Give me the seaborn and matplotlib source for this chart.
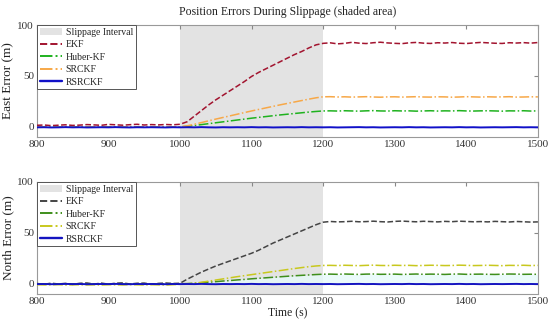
import numpy as np
import pandas as pd
import matplotlib
matplotlib.use("Agg")
import matplotlib.pyplot as plt
import seaborn as sns
from matplotlib.patches import Patch
from matplotlib.lines import Line2D

time = np.arange(800, 1501, 10)
slip_start, slip_end = 1000, 1200

east_ekf = [1.5, 1.8, 1.2, 1.6, 2.0, 1.4, 1.7, 2.2, 1.9, 1.5, 2.4, 2.0, 1.6, 2.1, 2.5, 1.8, 2.2, 1.9, 2.3, 2.0,
            2.5, 5.0, 10.5, 16.0, 21.5, 26.5, 31.0, 35.5, 40.0, 44.5, 49.5, 53.5, 57.0, 60.5, 64.0, 67.5, 71.0, 74.0, 77.5, 80.5, 82.0,
            82.5, 81.5, 82.0, 83.0, 82.2, 81.8, 82.6, 83.1, 82.4, 82.0, 81.7, 82.5, 82.9, 82.2, 81.9,
            82.6, 82.3, 82.8, 82.1, 81.8, 82.4, 82.9, 82.5, 82.1, 81.9, 82.6, 82.3, 82.7, 82.2, 82.8]
east_huber = [-0.2, -0.3, -0.1, -0.2, -0.3, -0.2, -0.1, -0.2, -0.3, -0.2, -0.1, -0.2, -0.3, -0.2, -0.1, -0.2, -0.2, -0.3, -0.1, -0.2,
              0.0, 0.5, 1.3, 2.2, 3.1, 4.0, 4.9, 5.8, 6.7, 7.6, 8.5, 9.3, 10.1, 10.9, 11.7, 12.4, 13.1, 13.8, 14.5, 15.1, 15.6,
              15.7, 15.5, 15.8, 15.6, 15.4, 15.7, 15.9, 15.6, 15.5, 15.8, 15.6, 15.7, 15.4, 15.6, 15.8,
              15.5, 15.7, 15.6, 15.9, 15.6, 15.5, 15.7, 15.8, 15.6, 15.4, 15.7, 15.6, 15.8, 15.5, 15.7]
east_srckf = [-0.3, -0.2, -0.4, -0.3, -0.2, -0.3, -0.4, -0.3, -0.2, -0.3, -0.3, -0.4, -0.2, -0.3, -0.3, -0.2, -0.4, -0.3, -0.3, -0.2,
              0.0, 1.0, 2.5, 4.2, 5.9, 7.6, 9.2, 10.8, 12.4, 14.0, 15.6, 17.1, 18.6, 20.1, 21.6, 23.0, 24.4, 25.8, 27.2, 28.5, 29.5,
              29.6, 29.3, 29.5, 29.2, 29.4, 29.6, 29.3, 29.1, 29.4, 29.5, 29.2, 29.4, 29.6, 29.3, 29.2,
              29.5, 29.4, 29.1, 29.3, 29.6, 29.4, 29.2, 29.5, 29.3, 29.4, 29.6, 29.2, 29.3, 29.5, 29.4]
east_rsrckf = [-0.5, -0.4, -0.6, -0.5, -0.3, -0.5, -0.4, -0.6, -0.5, -0.4, -0.5, -0.3, -0.5, -0.6, -0.4, -0.5, -0.4, -0.5, -0.6, -0.4,
               -0.5, -0.4, -0.5, -0.3, -0.5, -0.6, -0.4, -0.5, -0.4, -0.5, -0.3, -0.5, -0.4, -0.6, -0.5, -0.4, -0.5, -0.3, -0.5, -0.4, -0.5,
               -0.4, -0.6, -0.5, -0.4, -0.3, -0.5, -0.4, -0.6, -0.5, -0.4, -0.5, -0.3, -0.5, -0.4, -0.6,
               -0.5, -0.4, -0.5, -0.3, -0.5, -0.4, -0.6, -0.5, -0.4, -0.5, -0.4, -0.3, -0.5, -0.4, -0.5]

north_ekf = [0.3, -0.5, 0.6, -0.2, 0.4, -0.6, 0.5, 0.8, -0.3, 0.7, -0.4, 0.6, 0.9, -0.2, 0.5, 0.7, -0.5, 0.4, 0.8, 0.3,
             0.5, 4.5, 8.0, 11.5, 14.5, 17.5, 20.0, 22.5, 25.0, 27.5, 30.0, 33.0, 36.5, 40.0, 43.0, 46.0, 49.0, 52.0, 55.0, 58.0, 60.5,
             61.2, 60.8, 61.0, 61.4, 60.9, 61.1, 61.5, 61.0, 60.7, 61.3, 61.6, 61.2, 60.9, 61.4, 61.1,
             60.8, 61.3, 61.0, 61.5, 61.2, 60.9, 61.1, 60.8, 61.3, 61.0, 60.7, 61.2, 60.9, 60.6, 60.8]
north_huber = [-0.3, -0.2, -0.4, -0.3, -0.2, -0.3, -0.4, -0.2, -0.3, -0.3, -0.2, -0.4, -0.3, -0.2, -0.3, -0.4, -0.3, -0.2, -0.3, -0.2,
               0.0, 0.2, 0.6, 1.1, 1.6, 2.1, 2.7, 3.2, 3.8, 4.3, 4.9, 5.4, 5.9, 6.4, 6.9, 7.4, 7.9, 8.3, 8.7, 9.1, 9.4,
               9.5, 9.3, 9.6, 9.4, 9.2, 9.5, 9.6, 9.3, 9.4, 9.5, 9.2, 9.4, 9.6, 9.3, 9.5,
               9.4, 9.2, 9.5, 9.6, 9.3, 9.4, 9.5, 9.3, 9.2, 9.4, 9.6, 9.5, 9.3, 9.4, 9.3]
north_srckf = [-0.9, -1.1, -1.0, -0.8, -1.2, -1.0, -0.9, -1.1, -1.0, -1.2, -0.9, -1.0, -1.1, -0.8, -1.0, -1.1, -0.9, -1.0, -1.2, -0.9,
               -0.5, -0.2, 0.5, 1.5, 2.6, 3.7, 4.8, 5.9, 7.0, 8.0, 9.0, 10.0, 11.0, 12.0, 13.0, 14.0, 15.0, 15.9, 16.8, 17.5, 18.0,
               18.1, 17.9, 18.2, 18.0, 17.8, 18.1, 18.3, 18.0, 17.9, 18.2, 18.0, 18.1, 17.8, 18.0, 18.2,
               18.1, 17.9, 18.0, 18.3, 18.1, 17.9, 18.0, 18.2, 18.0, 17.8, 18.1, 18.0, 18.2, 17.9, 18.1]
north_rsrckf = [-0.3, -0.2, -0.4, -0.3, -0.1, -0.3, -0.2, -0.4, -0.3, -0.2, -0.3, -0.1, -0.3, -0.4, -0.2, -0.3, -0.2, -0.3, -0.4, -0.2,
                -0.3, -0.2, -0.3, -0.1, -0.3, -0.4, -0.2, -0.3, -0.2, -0.3, -0.1, -0.3, -0.2, -0.4, -0.3, -0.2, -0.3, -0.1, -0.3, -0.2, -0.3,
                -0.2, -0.4, -0.3, -0.2, -0.1, -0.3, -0.2, -0.4, -0.3, -0.2, -0.3, -0.1, -0.3, -0.2, -0.4,
                -0.3, -0.2, -0.3, -0.1, -0.3, -0.2, -0.4, -0.3, -0.2, -0.3, -0.2, -0.1, -0.3, -0.2, -0.3]

methods = ["EKF", "Huber-KF", "SRCKF", "RSRCKF"]
east = [east_ekf, east_huber, east_srckf, east_rsrckf]
north = [north_ekf, north_huber, north_srckf, north_rsrckf]

styles = {"EKF": "--", "Huber-KF": "-.", "SRCKF": "-.", "RSRCKF": "-"}
widths = {"EKF": 1.1, "Huber-KF": 1.1, "SRCKF": 1.1, "RSRCKF": 1.4}
east_colors = {"EKF": "#a2142f", "Huber-KF": "#1fb21f", "SRCKF": "#f7a848", "RSRCKF": "#1010c8"}
north_colors = {"EKF": "#444444", "Huber-KF": "#3f8f1c", "SRCKF": "#c8c81e", "RSRCKF": "#1414c0"}

sns.set_style("white")
plt.rcParams["font.family"] = ["Liberation Serif", "DejaVu Serif"]
plt.rcParams["xtick.direction"] = "in"
plt.rcParams["ytick.direction"] = "in"

fig = plt.figure(figsize=(5.5, 3.27), dpi=100)
ax1 = fig.add_axes([0.067, 0.581, 0.911, 0.3425])
ax2 = fig.add_axes([0.067, 0.101, 0.911, 0.3425])


def draw(ax, series, colors, ylabel, fill=False):
    ax.axvspan(slip_start, slip_end, color="#e3e3e3", lw=0, zorder=0)
    df = pd.DataFrame({"time": time})
    for m, vals in zip(methods, series):
        df[m] = vals
    if fill:
        ax.fill_between(df["time"], df["RSRCKF"], df["Huber-KF"], color="#e6fafa", alpha=0.8, lw=0, zorder=1)
    for m in methods:
        sns.lineplot(data=df, x="time", y=m, ax=ax, color=colors[m],
                     linestyle=styles[m], lw=widths[m], zorder=3)
    ax.set_xlim(800, 1500)
    ax.set_ylim(-10, 100)
    ax.set_xticks(range(800, 1501, 100))
    ax.set_yticks([0, 50, 100])
    ax.set_ylabel(ylabel, fontsize=9.5, color="#222222", labelpad=2)
    ax.set_xlabel("")
    ax.tick_params(labelsize=8, colors="#333333", length=3, pad=2, top=True, right=True,
                   labeltop=False, labelright=False, color="#888888")
    for s in ax.spines.values():
        s.set_color("#999999")
        s.set_linewidth(0.8)
    handles = [Patch(facecolor="#e3e3e3", edgecolor="none", label="Slippage Interval")]
    for m in methods:
        handles.append(Line2D([0], [0], color=colors[m], linestyle=styles[m], lw=widths[m] + 0.3, label=m))
    leg = ax.legend(handles=handles, loc="upper left", borderaxespad=0, fontsize=7,
                    frameon=True, fancybox=False, framealpha=1, edgecolor="#555555",
                    labelspacing=0.35, handlelength=2.3, borderpad=0.3, handletextpad=0.35)
    leg.get_frame().set_linewidth(0.7)


draw(ax1, east, east_colors, "East Error (m)")
draw(ax2, north, north_colors, "North Error (m)", fill=True)
ax2.set_xlabel("Time (s)", fontsize=8.5, color="#222222", labelpad=1)
ax1.set_title("Position Errors During Slippage (shaded area)", fontsize=8.5, color="#222222", pad=7)

fig.savefig("out.png", dpi=100)
